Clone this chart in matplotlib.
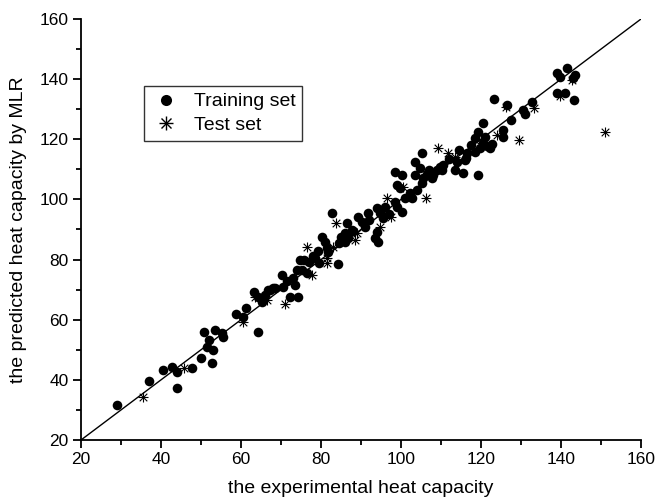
import matplotlib
matplotlib.use("Agg")
import matplotlib.pyplot as plt
from matplotlib.ticker import MultipleLocator
from matplotlib.legend_handler import HandlerTuple
from matplotlib.lines import Line2D

plt.rcParams['font.family'] = ['Liberation Sans', 'DejaVu Sans']

train_x = [29, 37, 40.6, 42.8, 43.9, 43.9, 47.7, 49.9, 52.75, 51.4, 53.1, 52, 50.75, 53.5, 55.2, 55.4,
           58.75, 61.3, 64.2, 63.25, 64.2, 65.2, 66, 66.8, 68, 67.25, 68.5, 70.3, 70.6, 72.25, 74.3,
           73.5, 73.1, 73.9, 75.2, 74.75, 75.75, 77.1, 77.9, 79.3, 79.6, 81.4, 81.8, 84.2, 80.2, 81,
           82.7, 86, 86.8, 86, 87.7, 86.4, 89.2, 90.2, 91, 91.8, 93.9, 94.75, 95.6, 93.9, 93.5, 94.3,
           98.5, 98.9, 100.3, 98.9, 99.75, 102.7, 102.25, 103.9, 105.2, 100.2, 98.5, 103.5, 104.75,
           103.5, 105.6, 105.2, 107.1, 108.1, 107.7, 108.9, 109.75, 110.6, 110.2, 113.5, 113.9, 116,
           116.4, 116.25, 115.6, 119.2, 118.5, 119.75, 120.6, 121.4, 122.25, 118.5, 119.3, 121, 120.6,
           125.6, 125.6, 123.3, 126.4, 130.6, 131, 132.7, 138.9, 139.75, 141.4, 143.1, 143.5, 138.9,
           141, 143.25, 85, 88, 92, 96, 97, 60.5, 65.5, 71.5, 76.5, 78.5, 84.5, 112, 114.5, 117.5,
           122.8, 127.5, 101, 106.5]
train_y = [31.5, 39.6, 43.4, 44.4, 42.5, 37.2, 43.8, 47.4, 45.6, 50.9, 49.8, 53.3, 55.8, 56.6, 55.5, 54.4,
           62, 64, 55.8, 69.1, 67.7, 66, 68.2, 69.9, 70.4, 69.9, 70.4, 74.9, 71, 67.7, 67.5,
           71.5, 73.8, 76.5, 76.5, 79.9, 79.9, 79.3, 81.2, 82.9, 78.8, 83.7, 82.6, 78.4, 87.6, 85.9,
           95.4, 88.7, 87.1, 85.9, 89.8, 92.3, 94.3, 92.6, 90.9, 95.4, 97, 95.4, 93.7, 89.3, 87.1, 85.9,
           99.2, 97.6, 95.7, 104.8, 103.7, 100.4, 102, 103.1, 105.4, 108.1, 109.2, 112.6, 110.4,
           108.1, 107, 115.3, 109.8, 108.1, 107, 109.8, 110.9, 111.4, 109.8, 109.8, 112.6, 113.1,
           115.3, 113.7, 108.7, 108.1, 115.9, 117, 118.7, 117.8, 117.2, 120.3, 122.5, 120.9, 125.3,
           123.1, 120.9, 133.3, 131.4, 129.7, 128.3, 132.5, 141.9, 140.8, 143.6, 140.3, 141.4, 135.3,
           135.3, 133.1, 87.5, 89.5, 93, 97.5, 95, 61, 66.5, 73, 75.5, 80.5, 85.5, 113.5, 116.5, 118,
           118.5, 126.5, 100.5, 108.5]

test_x = [35.4, 45.75, 60.6, 66.4, 63.5, 71, 77.7, 76.4, 81.4, 81.4, 83.1, 83.75, 88.9, 88.5, 95.6,
          96.4, 94.75, 97.5, 100.6, 106.25, 109.3, 111.8, 113.5, 120.2, 123.9, 129.6, 126.25,
          133.25, 142.7, 139.75, 151]
test_y = [34.2, 43.9, 59.3, 66.6, 67.5, 65.2, 74.9, 84.3, 80.4, 78.8, 84.3, 92.1, 88.7, 86.5, 96,
          100.4, 90.9, 94.3, 104.2, 100.4, 117, 115.3, 114.2, 118.7, 121.4, 119.8, 130.8,
          130.3, 139.7, 134.4, 122.5]

line_x = [20, 160]
line_y = [20, 160]

fig = plt.figure(figsize=(6.55, 5.01), dpi=100)
ax = fig.add_axes([81/655, 1-440/501, 560/655, 421/501])

ax.plot(line_x, line_y, color='black', lw=1.0, zorder=1)
ax.scatter(train_x, train_y, s=48, color='black', marker='o', linewidths=0, zorder=3)
ax.scatter(test_x, test_y, s=55, color='black', marker='+', linewidths=0.8, zorder=4)
ax.scatter(test_x, test_y, s=30, color='black', marker='x', linewidths=0.8, zorder=4)

ax.set_xlim(20, 160)
ax.set_ylim(20, 160)
ax.xaxis.set_major_locator(MultipleLocator(20))
ax.xaxis.set_minor_locator(MultipleLocator(10))
ax.yaxis.set_major_locator(MultipleLocator(20))
ax.yaxis.set_minor_locator(MultipleLocator(10))
for s in ['top', 'right']:
    ax.spines[s].set_visible(False)
for s in ['left', 'bottom']:
    ax.spines[s].set_linewidth(1.3)
ax.tick_params(which='major', direction='out', length=6, width=1.3, labelsize=12.5, pad=3)
ax.tick_params(which='minor', direction='out', length=3.5, width=1.3)

ax.set_xlabel('the experimental heat capacity', fontsize=14, labelpad=9)
ax.set_ylabel('the predicted heat capacity by MLR', fontsize=14, labelpad=9)

h_train = Line2D([], [], ls='none', marker='o', color='black', markersize=8, markeredgewidth=0)
h_plus = Line2D([], [], ls='none', marker='+', color='black', markersize=10, markeredgewidth=1.0)
h_x = Line2D([], [], ls='none', marker='x', color='black', markersize=7, markeredgewidth=1.0)
leg = ax.legend([h_train, (h_plus, h_x)], ['Training set', 'Test set'],
                handler_map={tuple: HandlerTuple(ndivide=1)},
                loc='upper left', bbox_to_anchor=(144/655, 1-86/501), bbox_transform=fig.transFigure,
                fontsize=14, frameon=True, fancybox=False, borderpad=0.35, handlelength=1.6,
                handletextpad=0.6, labelspacing=0.3, borderaxespad=0)
leg.get_frame().set_edgecolor('black')
leg.get_frame().set_linewidth(1.0)

fig.savefig('out.png', dpi=100)
